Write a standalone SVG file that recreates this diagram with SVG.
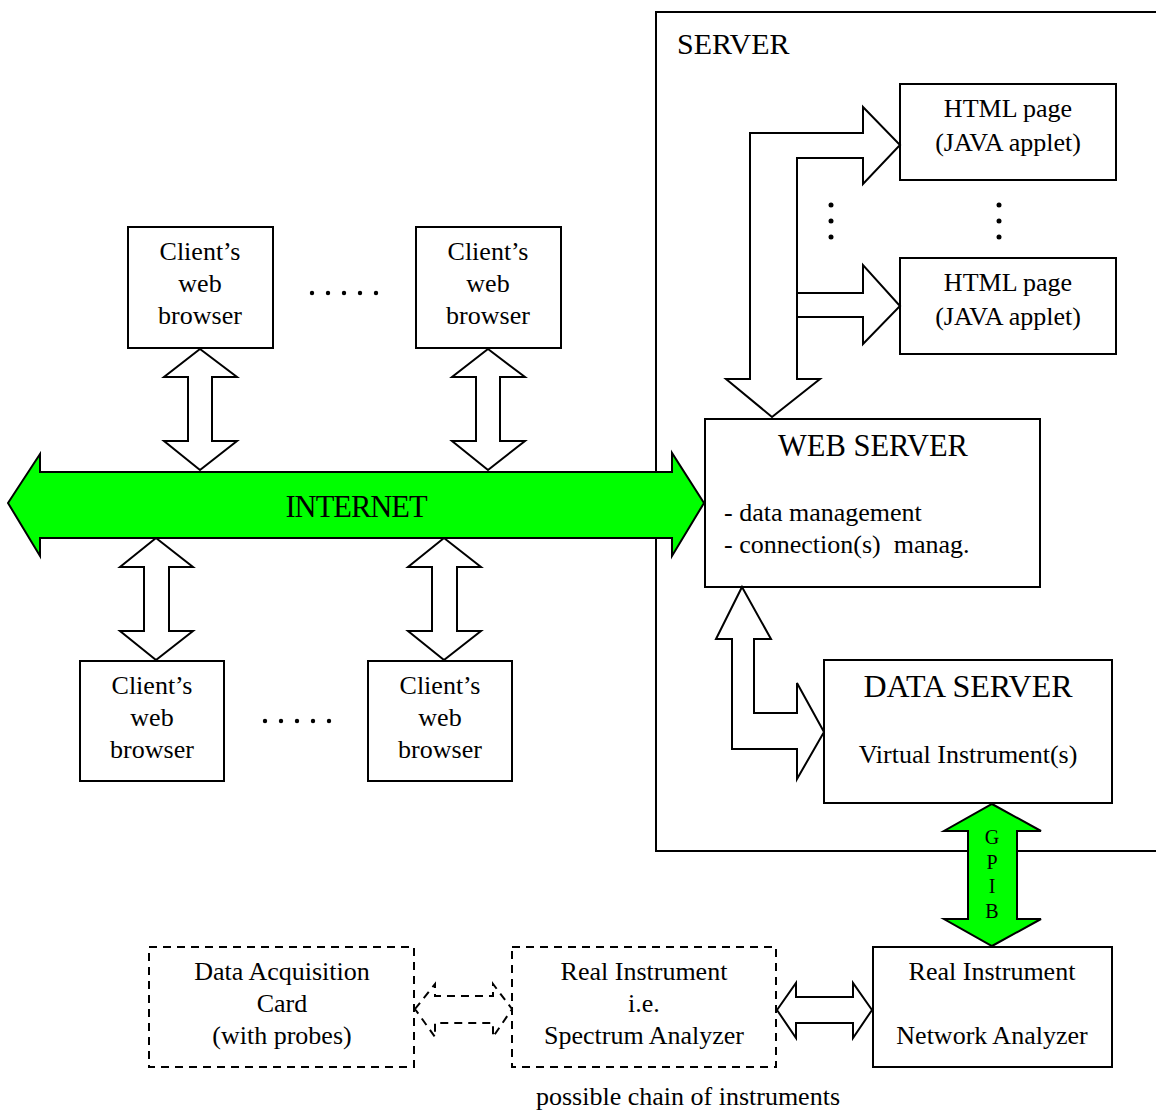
<svg xmlns="http://www.w3.org/2000/svg" width="1156" height="1113" viewBox="0 0 1156 1113">
<style>
.box{fill:#fff;stroke:#000;stroke-width:2}
.dbox{fill:#fff;stroke:#000;stroke-width:2;stroke-dasharray:8,6}
.arr{fill:#fff;stroke:#000;stroke-width:2;stroke-linejoin:miter}
.darr{fill:none;stroke:#000;stroke-width:2;stroke-dasharray:8,6}
.green{fill:#00ff00;stroke:#000;stroke-width:2}
text{font-family:"Liberation Serif","Times New Roman",serif;fill:#000}
.t{font-size:26px;text-anchor:middle}
.big{font-size:30.5px;text-anchor:middle}
.dot{fill:#000}
</style>
<g id="server">
<polyline points="1156,12 656,12 656,851 1156,851" fill="none" stroke="#000" stroke-width="2"/>
<text x="677" y="54" font-size="30">SERVER</text>
</g>
<g id="html1"><rect class="box" x="900" y="84" width="216" height="96"/>
<text class="t" x="1008" y="117">HTML page</text><text class="t" x="1008" y="151">(JAVA applet)</text></g>
<g id="html2"><rect class="box" x="900" y="258" width="216" height="96"/>
<text class="t" x="1008" y="291">HTML page</text><text class="t" x="1008" y="325">(JAVA applet)</text></g>
<g id="webserver"><rect class="box" x="705" y="419" width="335" height="168"/>
<text class="big" x="873" y="456">WEB SERVER</text>
<text x="724" y="521" font-size="26">- data management</text>
<text x="724" y="553" font-size="26" xml:space="preserve">- connection(s)  manag.</text></g>
<g id="dataserver"><rect class="box" x="824" y="660" width="288" height="143"/>
<text class="big" x="968" y="697" style="font-size:32px">DATA SERVER</text>
<text class="t" x="968" y="763">Virtual Instrument(s)</text></g>
<g id="client1"><rect class="box" x="128" y="227" width="145" height="121"/>
<text class="t" x="200" y="260">Client’s</text><text class="t" x="200" y="292">web</text><text class="t" x="200" y="324">browser</text></g>
<g id="client2"><rect class="box" x="416" y="227" width="145" height="121"/>
<text class="t" x="488" y="260">Client’s</text><text class="t" x="488" y="292">web</text><text class="t" x="488" y="324">browser</text></g>
<g id="client3"><rect class="box" x="80" y="661" width="144" height="120"/>
<text class="t" x="152" y="694">Client’s</text><text class="t" x="152" y="726">web</text><text class="t" x="152" y="758">browser</text></g>
<g id="client4"><rect class="box" x="368" y="661" width="144" height="120"/>
<text class="t" x="440" y="694">Client’s</text><text class="t" x="440" y="726">web</text><text class="t" x="440" y="758">browser</text></g>
<g id="daq"><rect class="dbox" x="149" y="947" width="265" height="120"/>
<text class="t" x="282" y="980">Data Acquisition</text><text class="t" x="282" y="1012">Card</text><text class="t" x="282" y="1044">(with probes)</text></g>
<g id="spectrum"><rect class="dbox" x="512" y="947" width="264" height="120"/>
<text class="t" x="644" y="980">Real Instrument</text><text class="t" x="644" y="1012">i.e.</text><text class="t" x="644" y="1044">Spectrum Analyzer</text></g>
<g id="network"><rect class="box" x="873" y="947" width="239" height="120"/>
<text class="t" x="992" y="980">Real Instrument</text><text class="t" x="992" y="1044">Network Analyzer</text></g>
<g id="dots">
<circle class="dot" cx="312" cy="293" r="2.2"/><circle class="dot" cx="328" cy="293" r="2.2"/><circle class="dot" cx="344" cy="293" r="2.2"/><circle class="dot" cx="360" cy="293" r="2.2"/><circle class="dot" cx="376" cy="293" r="2.2"/>
<circle class="dot" cx="265" cy="721" r="2.2"/><circle class="dot" cx="281" cy="721" r="2.2"/><circle class="dot" cx="297" cy="721" r="2.2"/><circle class="dot" cx="313" cy="721" r="2.2"/><circle class="dot" cx="329" cy="721" r="2.2"/>
<circle class="dot" cx="831" cy="205" r="2.5"/><circle class="dot" cx="831" cy="221" r="2.5"/><circle class="dot" cx="831" cy="237" r="2.5"/>
<circle class="dot" cx="999" cy="205" r="2.5"/><circle class="dot" cx="999" cy="221" r="2.5"/><circle class="dot" cx="999" cy="237" r="2.5"/>
</g>
<g id="connectors">
<polygon class="arr" points="750,379 750,133 863,133 863,107 900,145 863,184 863,158 797,158 797,379 820,379 772,417 726,379"/>
<polygon class="arr" points="797,293 863,293 863,265 900,306 863,344 863,317 797,317"/>
<polygon class="arr" points="742,587 771,639 754,639 754,713 797,713 797,683 824,732 797,779 797,749 732,749 732,639 716,639"/>
<polygon class="arr" points="200,349 237,377 212,377 212,441 237,441 200,470 164,441 188,441 188,377 164,377"/>
<polygon class="arr" points="488,349 525,377 500,377 500,441 525,441 488,470 452,441 476,441 476,377 452,377"/>
<polygon class="arr" points="156,538 193,567 169,567 169,631 193,631 156,660 120,631 144,631 144,567 120,567"/>
<polygon class="arr" points="444,538 481,567 457,567 457,631 481,631 444,660 408,631 432,631 432,567 408,567"/>
<polygon class="green" points="8,503 40,454 40,472 672,472 672,453 704,503 672,556 672,538 40,538 40,556"/>
<text class="big" x="356" y="517" style="letter-spacing:-1px">INTERNET</text>
<polygon class="green" points="992,804 1041,831 1017,831 1017,919 1041,919 992,946 944,919 968,919 968,831 944,831"/>
<text x="992" y="844" font-size="20" text-anchor="middle">G</text>
<text x="992" y="869" font-size="20" text-anchor="middle">P</text>
<text x="992" y="893" font-size="20" text-anchor="middle">I</text>
<text x="992" y="918" font-size="20" text-anchor="middle">B</text>
<polygon class="arr" points="777,1010 796,983 796,997 853,997 853,983 872,1010 853,1038 853,1023 796,1023 796,1038"/>
<polygon class="darr" points="415,1009 435,984 435,996 493,996 493,984 512,1009 493,1037 493,1023 435,1023 435,1037"/>
</g>
<text class="t" x="688" y="1105">possible chain of instruments</text>
</svg>
